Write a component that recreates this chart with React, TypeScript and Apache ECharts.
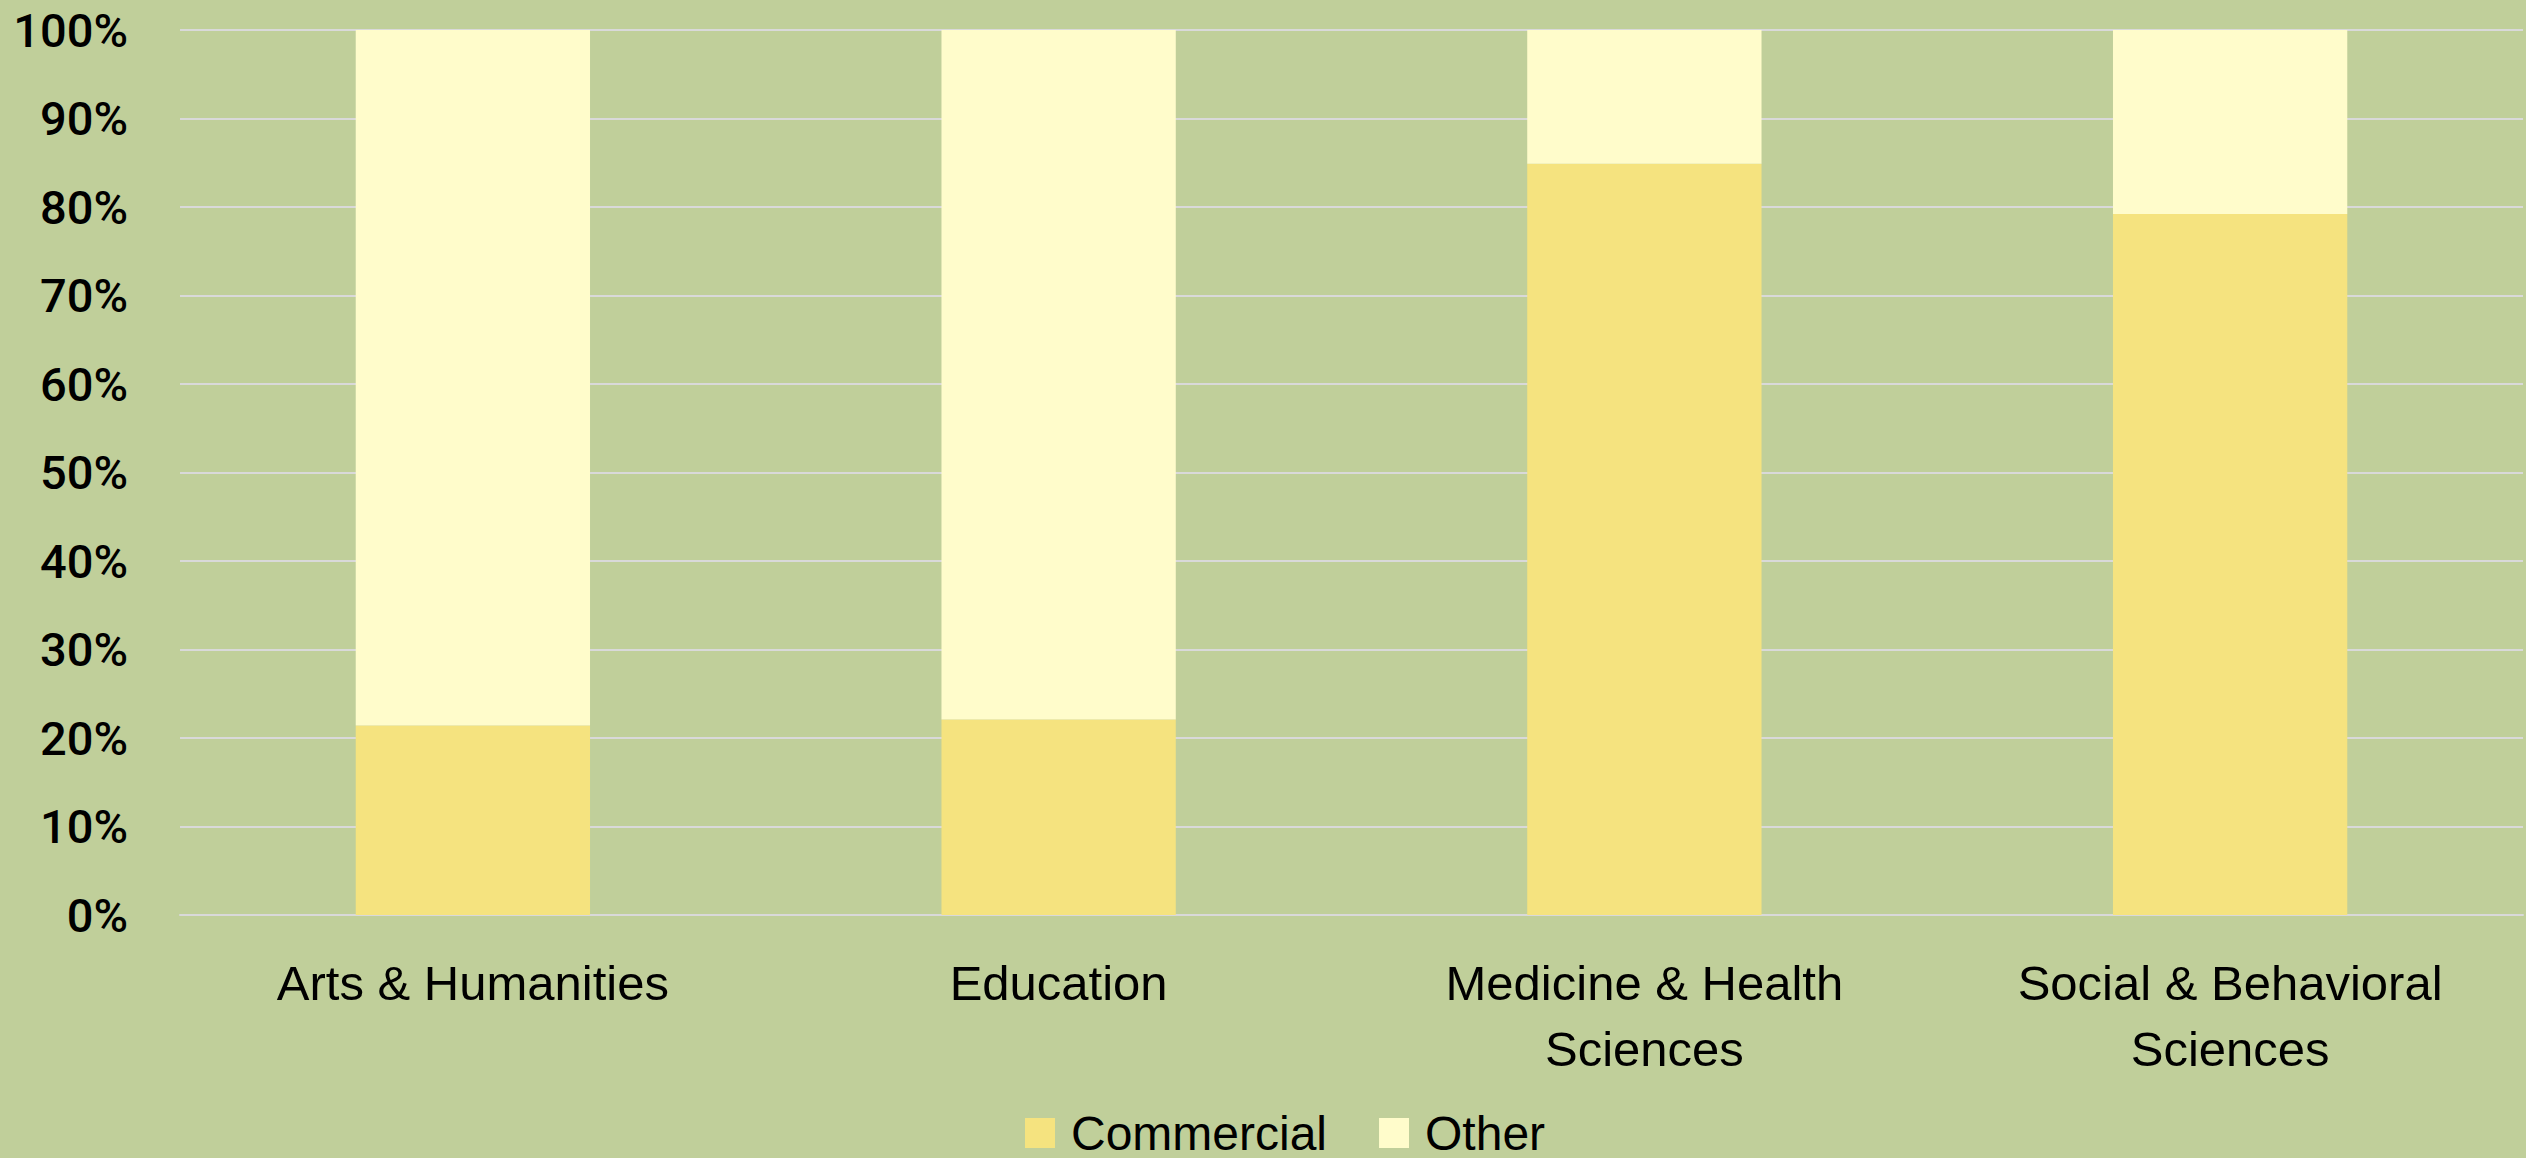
import React, { useEffect, useRef } from "react";
import * as echarts from "echarts";

const categories = [
  "Arts & Humanities",
  "Education",
  "Medicine & Health\nSciences",
  "Social & Behavioral\nSciences",
];
const commercial = [21.4, 22.1, 84.9, 79.2];
const other = [78.6, 77.9, 15.1, 20.8];
const seriesNames = ["Commercial", "Other"];

export default function App() {
  const ref = useRef<HTMLDivElement>(null);
  useEffect(() => {
    if (!ref.current) return;
    const chart = echarts.init(ref.current, null, { renderer: "svg" });
    chart.setOption({
      animation: false,
      backgroundColor: "#C0CF9A",
      grid: {
        left: 180,
        right: 3,
        top: 30,
        bottom: 243,
        containLabel: false,
        outerBoundsMode: "none",
      },
      legend: {
        data: seriesNames,
        left: 1025,
        top: 1109,
        padding: 0,
        itemWidth: 30,
        itemHeight: 30,
        itemGap: 52,
        icon: "rect",
        textStyle: {
          fontFamily: "Liberation Sans, Arial, sans-serif",
          fontSize: 48,
          color: "#000",
          padding: [0, 0, 16, 11],
        },
      },
      xAxis: {
        type: "category",
        data: categories,
        axisLine: { show: true, lineStyle: { color: "#D9D9D9", width: 2 } },
        axisTick: { show: false },
        axisLabel: {
          interval: 0,
          margin: 35,
          fontFamily: "Liberation Sans, Arial, sans-serif",
          fontSize: 49,
          lineHeight: 66,
          color: "#000",
        },
      },
      yAxis: {
        type: "value",
        min: 0,
        max: 100,
        interval: 10,
        axisLine: { show: false },
        axisTick: { show: false },
        splitLine: { lineStyle: { color: "#D9D9D9", width: 2 } },
        axisLabel: {
          formatter: "{value}%",
          margin: 52,
          align: "right",
          fontFamily: "Roboto, sans-serif",
          fontWeight: 500,
          fontSize: 47,
          color: "#000",
        },
      },
      series: [
        {
          name: seriesNames[0],
          type: "bar",
          stack: "total",
          data: commercial,
          barWidth: "40%",
          itemStyle: { color: "#F5E37F" },
        },
        {
          name: seriesNames[1],
          type: "bar",
          stack: "total",
          data: other,
          barWidth: "40%",
          itemStyle: { color: "#FFFCCB" },
        },
      ],
    });
    return () => chart.dispose();
  }, []);
  return (
    <div
      ref={ref}
      style={{ position: "fixed", left: 0, top: 0, width: 2526, height: 1158 }}
    />
  );
}
